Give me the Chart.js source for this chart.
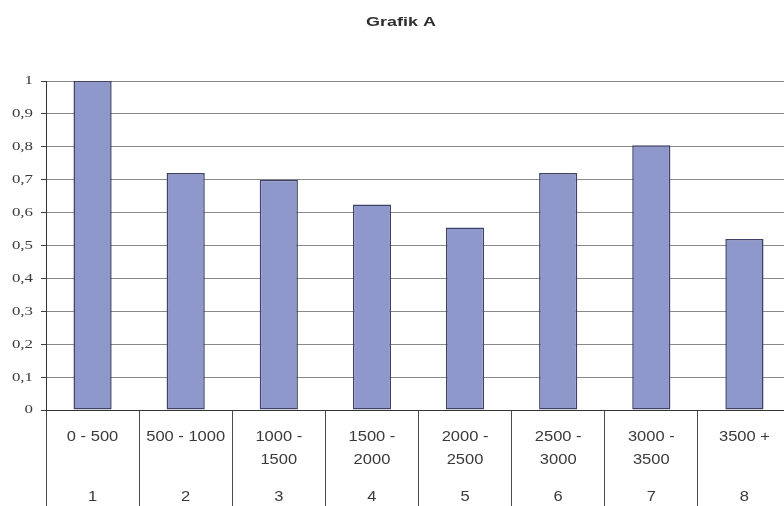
<!DOCTYPE html>
<html>
<head>
<meta charset="utf-8">
<script src="https://cdn.jsdelivr.net/npm/chart.js@4"></script>
<style>
  html, body { margin: 0; padding: 0; background: #fff; overflow: hidden; }
  canvas { display: block; }
</style>
</head>
<body>
<canvas id="grafikA" width="800" height="506"></canvas>
<script>
const chartTitle = "Grafik A";
const rangeLabels = [
    ["0 - 500"], ["500 - 1000"], ["1000 -", "1500"], ["1500 -", "2000"],
    ["2000 -", "2500"], ["2500 -", "3000"], ["3000 -", "3500"], ["3500 +"]
];
const groupNumbers = ["1", "2", "3", "4", "5", "6", "7", "8"];
const values = [1, 0.72, 0.70, 0.625, 0.555, 0.72, 0.805, 0.52];
const yTicks = [0, 0.1, 0.2, 0.3, 0.4, 0.5, 0.6, 0.7, 0.8, 0.9, 1];

// text a bit wider than the font draws it
function wideText(ctx, txt, x, y, stretch) {
    ctx.save();
    ctx.translate(x, y);
    ctx.scale(stretch, 1);
    ctx.fillText(txt, 0, 0);
    ctx.restore();
}

const textLayer = {
    id: 'textLayer',
    afterDraw(chart) {
        const ctx = chart.ctx;
        const x = chart.scales.x;
        const y = chart.scales.y;
        ctx.save();
        ctx.textBaseline = 'middle';

        // title
        ctx.fillStyle = '#2e2e2e';
        ctx.textAlign = 'center';
        ctx.font = 'bold 13px "Liberation Sans", Arial, sans-serif';
        wideText(ctx, chartTitle, 401, 22, 1.38);

        // y tick labels, decimal comma
        ctx.fillStyle = '#3a3a3a';
        ctx.textAlign = 'right';
        ctx.font = '13px "Liberation Serif", "Times New Roman", serif';
        y.ticks.forEach(t => {
            const txt = String(Math.round(t.value * 10) / 10).replace('.', ',');
            wideText(ctx, txt, 33, y.getPixelForValue(t.value), 1.3);
        });

        // category table under the axis
        ctx.textAlign = 'center';
        ctx.font = '14px "Liberation Sans", Arial, sans-serif';
        rangeLabels.forEach((lines, i) => {
            const cx = x.getPixelForValue(i);
            lines.forEach((txt, j) => wideText(ctx, txt, cx, x.top + 27 + j * 23, 1.18));
            wideText(ctx, groupNumbers[i], cx, x.top + 87, 1.18);
        });
        ctx.restore();
    }
};

new Chart(document.getElementById('grafikA').getContext('2d'), {
    type: 'bar',
    data: {
        labels: groupNumbers,
        datasets: [{
            data: values,
            backgroundColor: '#8f98cb',
            borderColor: '#3e4266',
            borderWidth: 1.5,
            borderSkipped: false,
            barPercentage: 0.41,
            categoryPercentage: 1
        }]
    },
    options: {
        responsive: false,
        animation: false,
        layout: { padding: { left: 0, right: 9, top: 81, bottom: 0 } },
        plugins: {
            legend: { display: false },
            tooltip: { enabled: false },
            title: { display: false }
        },
        scales: {
            x: {
                grid: {
                    offset: true,
                    drawOnChartArea: false,
                    tickLength: 96,
                    color: '#4a4a4a'
                },
                border: { color: '#333', width: 1 },
                ticks: { display: false },
                afterFit(scale) { scale.height = 96; }
            },
            y: {
                min: 0,
                max: 1,
                afterBuildTicks(scale) { scale.ticks = yTicks.map(v => ({ value: v })); },
                grid: { color: '#8a8a8a', tickLength: 5, tickColor: '#404040' },
                border: { color: '#333', width: 1 },
                ticks: { display: false },
                afterFit(scale) { scale.width = 46; }
            }
        }
    },
    plugins: [textLayer]
});
</script>
</body>
</html>
